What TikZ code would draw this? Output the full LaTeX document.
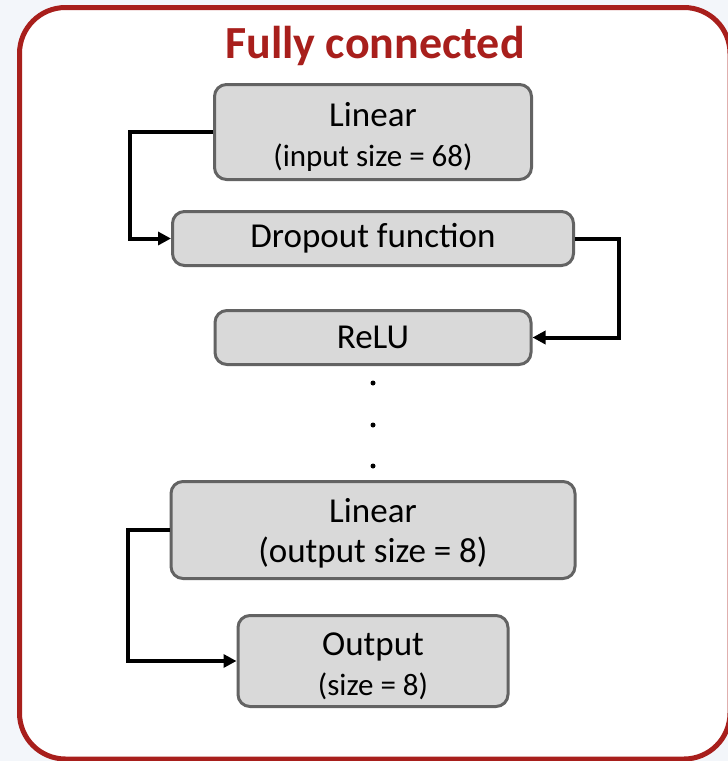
\documentclass[tikz,border=0pt]{standalone}
\usepackage{fontspec}
\setmainfont{Carlito}
\usepackage{tikz}
\usetikzlibrary{positioning, arrows.meta}
\definecolor{framered}{HTML}{A81F1C}
\definecolor{boxgray}{HTML}{D9D9D9}
\definecolor{edgegray}{HTML}{636363}
\definecolor{pagebg}{HTML}{F3F6FA}
\newcommand{\sizeline}[1]{{\fontsize{31}{40}\selectfont #1}}
\newcommand{\toplift}[1]{\rule{0pt}{#1}}
\tikzset{
    layer/.style={draw=edgegray, fill=boxgray, line width=3pt, rounded corners=12pt, align=center, inner sep=0pt, font=\fontsize{35}{40}\selectfont},
    dotmark/.style={circle, fill=black, inner sep=0pt, minimum size=5pt},
    flow/.style={line width=4pt, -{Triangle[length=13pt, width=13pt]}}
}

\begin{document}
\begin{tikzpicture}[x=1pt, y=-1pt]
\useasboundingbox (0,0) rectangle (728,761);
\clip (0,0) rectangle (728,761);
\fill[pagebg] (0,0) rectangle (728,761);
\draw[framered, line width=5pt, fill=white, rounded corners=46pt] (19.5,7.5) rectangle (730,759);
\node[font=\bfseries\fontsize{46}{50}\selectfont, text=framered] (title) at (375,46) {Fully connected};
\node[layer, minimum width=317pt, minimum height=95pt] (lin1) at (373,132) {\toplift{33pt}Linear\\\sizeline{(input size = 68)}};
\node[layer, minimum width=401pt, minimum height=54pt, below=29pt of lin1] (drop) {Dropout function};
\node[layer, minimum width=316pt, minimum height=54pt, below=42pt of drop] (relu) {ReLU};
\foreach \i/\y in {1/383, 2/425, 3/466}
    \node[dotmark] (dot\i) at (373,\y) {};
\node[layer, minimum width=404pt, minimum height=97pt, below=114pt of relu] (lin2) {\toplift{30pt}Linear\\(output size = 8)};
\node[layer, minimum width=270pt, minimum height=91pt, below=34pt of lin2] (out) {\toplift{33pt}Output\\\sizeline{(size = 8)}};
\draw[flow] (lin1.west) -- ++(-83,0) |- (drop.west);
\draw[flow] (drop.east) -- ++(44,0) |- (relu.east);
\draw[flow] (lin2.west) -- ++(-42,0) |- (out.west);
\end{tikzpicture}
\end{document}
